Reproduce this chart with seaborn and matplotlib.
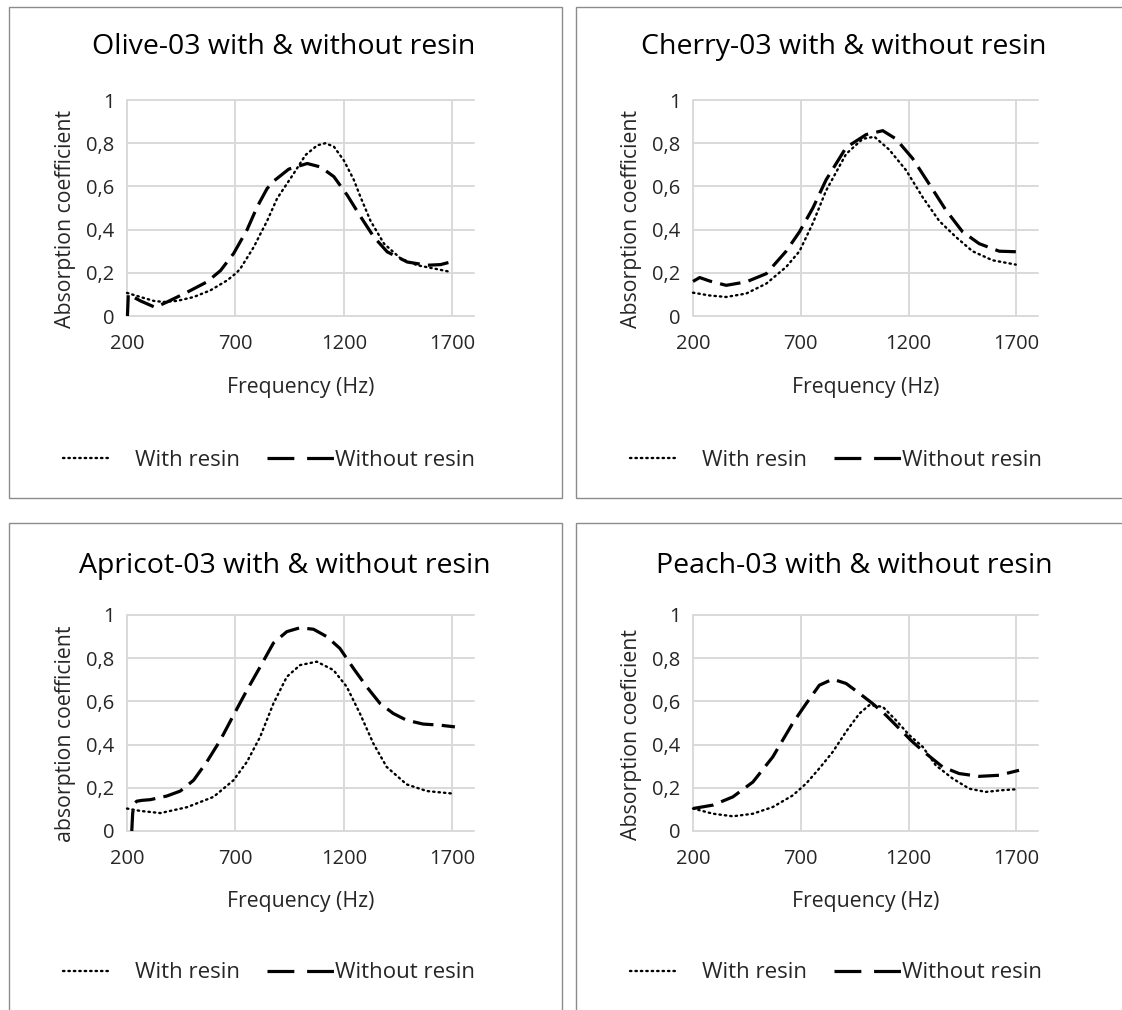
import matplotlib
matplotlib.use('Agg')
import matplotlib.pyplot as plt
import seaborn as sns
import pandas as pd
from matplotlib.patches import Rectangle
from matplotlib.lines import Line2D

sns.set_theme(style='white')
plt.rcParams['font.family'] = ['Open Sans', 'DejaVu Sans']

# ---------------- data ----------------
titles = ["Olive-03 with & without resin", "Cherry-03 with & without resin",
          "Apricot-03 with & without resin", "Peach-03 with & without resin"]
ylabels = ["Absorption coefficient", "Absorption coefficient",
           "absorption coefficient", "Absorption coeficient"]
xlabel = "Frequency (Hz)"
series_names = ["With resin", "Without resin"]
xticks = [200, 700, 1200, 1700]
yticks = [0, 0.2, 0.4, 0.6, 0.8, 1]
ytick_labels = ["0", "0,2", "0,4", "0,6", "0,8", "1"]

olive_with_f = [200, 262, 323, 369, 431, 508, 585, 662, 705, 723, 785, 815, 846, 892, 969,
                1023, 1077, 1115, 1154, 1200, 1246, 1277, 1323, 1385, 1462, 1538, 1615, 1692]
olive_with_a = [0.107, 0.088, 0.070, 0.065, 0.070, 0.088, 0.119, 0.165, 0.20, 0.22, 0.32, 0.38, 0.44, 0.544, 0.66,
                0.745, 0.79, 0.80, 0.784, 0.72, 0.63, 0.55, 0.44, 0.335, 0.266, 0.235, 0.22, 0.204]
olive_without_f = [202, 206, 262, 330, 385, 477, 569, 631, 692, 754, 800, 846, 877, 946, 1031,
                   1092, 1154, 1215, 1277, 1338, 1400, 1492, 1585, 1646, 1692]
olive_without_a = [0.0, 0.10, 0.07, 0.04, 0.065, 0.11, 0.158, 0.21, 0.29, 0.40, 0.505, 0.59, 0.625, 0.68, 0.706,
                   0.69, 0.645, 0.56, 0.46, 0.366, 0.297, 0.25, 0.235, 0.238, 0.25]

cherry_with_f = [200, 277, 354, 447, 540, 632, 694, 756, 817, 910, 987, 1041, 1110, 1188, 1265,
                 1342, 1419, 1496, 1589, 1697]
cherry_with_a = [0.108, 0.095, 0.088, 0.104, 0.15, 0.227, 0.30, 0.43, 0.58, 0.75, 0.82, 0.83, 0.77, 0.675, 0.55,
                 0.44, 0.366, 0.30, 0.258, 0.238]
cherry_without_f = [200, 231, 277, 354, 447, 540, 632, 694, 756, 817, 910, 1003, 1080, 1141, 1218,
                    1296, 1373, 1450, 1527, 1620, 1712]
cherry_without_a = [0.16, 0.178, 0.162, 0.142, 0.158, 0.196, 0.30, 0.39, 0.50, 0.63, 0.78, 0.84, 0.858, 0.82, 0.73,
                    0.61, 0.49, 0.39, 0.335, 0.30, 0.297]

apricot_with_f = [200, 261, 354, 476, 599, 691, 753, 814, 875, 937, 998, 1075, 1152, 1213, 1274,
                  1336, 1397, 1489, 1582, 1704]
apricot_with_a = [0.104, 0.093, 0.083, 0.11, 0.158, 0.235, 0.32, 0.436, 0.59, 0.714, 0.768, 0.784, 0.745, 0.668, 0.544,
                  0.405, 0.297, 0.216, 0.185, 0.173]
apricot_without_f = [222, 226, 232, 245, 270, 307, 384, 446, 507, 568, 630, 691, 753, 814, 875, 937, 998,
                     1060, 1121, 1182, 1244, 1305, 1367, 1428, 1489, 1566, 1643, 1712]
apricot_without_a = [0.0, 0.08, 0.125, 0.138, 0.142, 0.145, 0.162, 0.185, 0.235, 0.32, 0.42, 0.536, 0.652, 0.76, 0.87, 0.923, 0.941,
                     0.934, 0.90, 0.845, 0.753, 0.668, 0.59, 0.544, 0.513, 0.495, 0.49, 0.482]

peach_with_f = [200, 293, 385, 478, 570, 663, 725, 786, 848, 910, 972, 1018, 1080, 1141, 1203,
                1265, 1326, 1404, 1481, 1558, 1635, 1697]
peach_with_a = [0.104, 0.08, 0.068, 0.08, 0.111, 0.165, 0.22, 0.29, 0.366, 0.46, 0.544, 0.583, 0.575, 0.513, 0.444,
                0.39, 0.304, 0.243, 0.196, 0.181, 0.189, 0.193]
peach_without_f = [200, 293, 385, 478, 570, 663, 725, 786, 848, 910, 972, 1033, 1095, 1157, 1218,
                   1280, 1357, 1434, 1527, 1620, 1712]
peach_without_a = [0.104, 0.12, 0.158, 0.227, 0.343, 0.50, 0.59, 0.675, 0.703, 0.683, 0.637, 0.59, 0.536, 0.474, 0.413,
                   0.359, 0.297, 0.266, 0.253, 0.258, 0.281]

panels = [
    (olive_with_f, olive_with_a, olive_without_f, olive_without_a),
    (cherry_with_f, cherry_with_a, cherry_without_f, cherry_without_a),
    (apricot_with_f, apricot_with_a, apricot_without_f, apricot_without_a),
    (peach_with_f, peach_with_a, peach_without_f, peach_without_a),
]

# ---------------- layout (pixels) ----------------
W, H = 1122, 1010
axes_px = [(127, 100, 474, 316), (693, 100, 1038, 316),
           (127, 615, 474, 831), (693, 615, 1038, 831)]
border_px = [(9, 7, 562, 498), (576, 7, 1127, 498),
             (9, 523, 562, 1015), (576, 523, 1127, 1015)]
title_px = [(284, 47), (844, 47), (285, 566), (854, 566)]
legend_y = [460, 460, 973, 973]
legend_x0 = [63, 630, 63, 630]   # start of the dotted key
legend_x1 = [267, 834, 267, 834]  # start of the dashed key

fig = plt.figure(figsize=(W / 100, H / 100), dpi=100)

def fx(x):
    return x / W

def fy(y):
    return 1 - y / H

DOT = (0, (0.6, 1.7))
DASH = (0, (6.5, 2.6))
LW_DOT = 1.7
LW_DASH = 2.3
grid_color = '#d9d9d9'
text_color = '#262626'
TICK_FS = 14.5
LABEL_FS = 15.3
LEG_FS = 16
TITLE_FS = 20.5

for i, (l, t, r, b) in enumerate(axes_px):
    # panel border
    bl, bt, br, bb = border_px[i]
    fig.add_artist(Rectangle((fx(bl), fy(bb)), fx(br - bl), (bb - bt) / H,
                             transform=fig.transFigure, fill=False,
                             edgecolor='#8c8c8c', linewidth=1.0))
    ax = fig.add_axes([fx(l), fy(b), fx(r - l), (b - t) / H])
    wf, wa, nf, na = panels[i]
    sns.lineplot(x=wf, y=wa, ax=ax, color='black', linewidth=LW_DOT, linestyle=DOT,
                 sort=False, estimator=None, dash_capstyle='round')
    sns.lineplot(x=nf, y=na, ax=ax, color='black', linewidth=LW_DASH, linestyle=DASH,
                 sort=False, estimator=None, dash_capstyle='butt')
    for ln in ax.lines:
        ln.set_clip_on(False)
        ln.set_zorder(3)
    ax.set_xlim(200, 1800)
    ax.set_ylim(0, 1)
    ax.set_xticks(xticks)
    ax.set_xticklabels([str(v) for v in xticks])
    ax.set_yticks(yticks)
    ax.set_yticklabels(ytick_labels)
    ax.grid(True, color=grid_color, linewidth=1.4)
    ax.set_axisbelow(True)
    for gl in ax.get_xgridlines() + ax.get_ygridlines():
        gl.set_clip_on(False)
    for s in ax.spines.values():
        s.set_visible(False)
    ax.tick_params(length=0, labelsize=TICK_FS, labelcolor=text_color)
    ax.tick_params(axis='x', pad=13)
    ax.tick_params(axis='y', pad=9)
    ax.set_xlabel(xlabel, fontsize=LABEL_FS, color=text_color)
    ax.set_ylabel(ylabels[i], fontsize=LABEL_FS, color=text_color)
    aw, ah = r - l, b - t
    ax.xaxis.set_label_coords(0.5, -71 / ah)
    ax.xaxis.label.set_va('center')
    ax.yaxis.set_label_coords(-62 / aw, (b - (t + 119)) / ah)
    ax.yaxis.label.set_va('center')
    ax.set_facecolor('white')
    cx, cy = title_px[i]
    fig.text(fx(cx), fy(cy), titles[i], ha='center', va='center',
             fontsize=TITLE_FS, color='black')
    h_dot = Line2D([], [], color='black', linewidth=LW_DOT, linestyle=DOT, dash_capstyle='round')
    h_dash = Line2D([], [], color='black', linewidth=LW_DASH, linestyle=(0, (8.4, 4.0)))
    fig.legend([h_dot], [series_names[0]], loc='center left',
               bbox_to_anchor=(fx(legend_x0[i]), fy(legend_y[i])),
               frameon=False, fontsize=LEG_FS, handlelength=2.05,
               handletextpad=1.2, borderpad=0, borderaxespad=0,
               labelcolor=text_color)
    fig.legend([h_dash], [series_names[1]], loc='center left',
               bbox_to_anchor=(fx(legend_x1[i]), fy(legend_y[i])),
               frameon=False, fontsize=LEG_FS, handlelength=3.0,
               handletextpad=0.05, borderpad=0, borderaxespad=0,
               labelcolor=text_color)

fig.savefig('out.png', dpi=100, facecolor='white')
